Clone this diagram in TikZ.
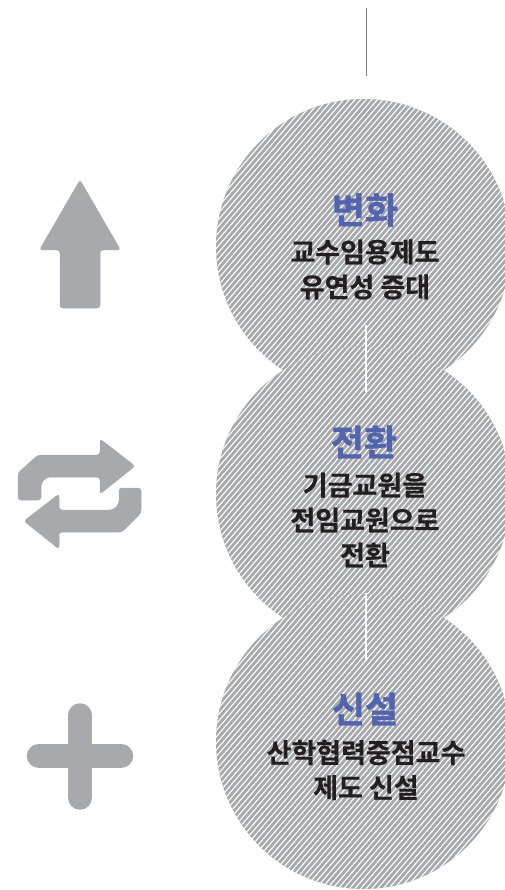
\documentclass[tikz,border=0pt]{standalone}
\usepackage{fontspec}
\setmainfont{Noto Sans CJK KR}[BoldFont={Noto Sans CJK KR Bold}]
\newfontfamily\titlefont{Noto Sans CJK KR Bold}[FakeBold=1.2]
\newfontfamily\bodyfont{Noto Sans CJK KR Bold}[FakeBold=0.4]
\newcommand{\hatchcircle}[1]{%
  \begin{scope}
    \clip (363.5,#1) circle (147.5);
    \fill[discgray] (200,#1-160) rectangle (530,#1+160);
    \foreach \k in {-50,...,50}{
      \draw[hatchline] (363.5+\k*5.6-150,#1+175) -- (363.5+\k*5.6+150,#1-175);
    }
  \end{scope}}
\tikzset{
  x=1pt,y=-1pt,
  discgray/.style={fill=iconc},
  hatchline/.style={draw=white,line width=1.1pt},
  icon/.style={fill=iconc,draw=iconc,line width=0.5pt,rounded corners=3pt},
  plusbar/.style={draw=iconc,line width=24.5pt,line cap=round},
  titletext/.style={font=\titlefont\fontsize{36}{38}\selectfont,text=titleblue,inner sep=0pt},
  bodytext/.style={font=\bodyfont\fontsize{27}{35}\selectfont,text=bodydark,align=center,inner sep=0pt},
}
\definecolor{iconc}{HTML}{A7A9AC}
\definecolor{titleblue}{HTML}{5264B0}
\definecolor{bodydark}{HTML}{231F20}
\definecolor{linegray}{HTML}{808285}
\begin{document}
\begin{tikzpicture}
\useasboundingbox (0,0) rectangle (505,890);
\clip (0,0) rectangle (505,890);
\fill[white] (0,0) rectangle (505,890);
\draw[draw=linegray,line width=0.8pt] (366,8) -- (366,76);
\hatchcircle{246.5}
\hatchcircle{494}
\hatchcircle{741.5}
\draw[white,line width=1.1pt] (366,325) -- (366,392);
\draw[white,line width=1.1pt] (366,593) -- (366,661);
\node[titletext] (t1) at (365,210) {변화};
\node[bodytext] (b1) at (365,269.5) {교수임용제도\\유연성 증대};
\node[titletext] (t2) at (364,442) {전환};
\node[bodytext] (b2) at (365,520) {기금교원을\\전임교원으로\\전환};
\node[titletext] (t3) at (365,709) {신설};
\node[bodytext] (b3) at (366,770) {산학협력중점교수\\제도 신설};
% up arrow
\fill[icon] (80,180) -- (120.5,250) -- (100,250) -- (100,308) -- (60,308) -- (60,250) -- (39.5,250) -- cycle;
% swap arrows
\fill[icon] (135,466) -- (100,439) -- (100,455) -- (38,455) -- (18,473) -- (18,500) -- (41,500) -- (41,483) -- (47,477) -- (100,477) -- (100,494) -- cycle;
\fill[icon] (24,521) -- (59,494) -- (59,510) -- (113,510) -- (119,504) -- (119,488) -- (141,488) -- (141,513) -- (122,532) -- (59,532) -- (59,549) -- cycle;
% plus
\draw[plusbar] (80,715.5) -- (80,797.5);
\draw[plusbar] (39,756) -- (121,756);
\end{tikzpicture}
\end{document}
